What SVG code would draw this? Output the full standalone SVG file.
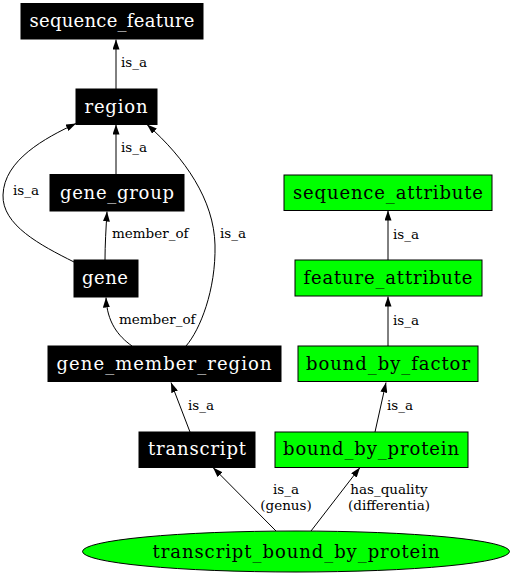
<svg xmlns="http://www.w3.org/2000/svg" width="513" height="576" viewBox="0 0 513 576">
<defs>
<style>
.nt{font-family:"DejaVu Serif","Liberation Serif",serif;font-size:18px;text-anchor:middle}
.w{fill:#ffffff}
.k{fill:#000000}
.bk{fill:#000000;stroke:#000000;stroke-width:1}
.gr{fill:#00ff00;stroke:#000000;stroke-width:1}
.el{font-family:"DejaVu Serif","Liberation Serif",serif;font-size:13.5px;fill:#000000}
.e{fill:none;stroke:#000000;stroke-width:1;marker-end:url(#ah)}
</style>
<marker id="ah" viewBox="0 0 10 7" refX="10" refY="3.5" markerWidth="10" markerHeight="7" markerUnits="userSpaceOnUse" orient="auto">
<path d="M0,0 L10,3.5 L0,7 z" fill="#000000"/>
</marker>
</defs>
<rect width="513" height="576" fill="#ffffff"/>
<g id="edges">
<path class="e" d="M116,89 L116,39.5"/>
<path class="e" d="M116,174 L116,124.5"/>
<path class="e" d="M105,260 C105,245 106,228 107,211.5"/>
<path class="e" d="M74,262 C40,245 2,225 3,195 C4,160 45,138 76,123.5"/>
<path class="e" d="M186,346 C200,330 216,290 215,245 C214,200 185,158 147,124.5"/>
<path class="e" d="M132,346 C118,336 107,322 106,297.5"/>
<path class="e" d="M190,432 L171,382.5"/>
<path class="e" d="M375,432 L386,382.5"/>
<path class="e" d="M388,346 L388,296.5"/>
<path class="e" d="M388,260 L388,210.5"/>
<path class="e" d="M276,531 L213,467.5"/>
<path class="e" d="M311,531 L360,467.5"/>
<text class="el" x="121" y="67">is_a</text>
<text class="el" x="121" y="152">is_a</text>
<text class="el" x="13" y="195">is_a</text>
<text class="el" x="112" y="238">member_of</text>
<text class="el" x="220" y="238">is_a</text>
<text class="el" x="119" y="324">member_of</text>
<text class="el" x="188" y="410">is_a</text>
<text class="el" x="387" y="410">is_a</text>
<text class="el" x="393" y="325">is_a</text>
<text class="el" x="393" y="239">is_a</text>
<text class="el" x="286" y="494" text-anchor="middle">is_a</text>
<text class="el" x="286" y="509.5" text-anchor="middle">(genus)</text>
<text class="el" x="389" y="494" text-anchor="middle">has_quality</text>
<text class="el" x="389" y="509.5" text-anchor="middle">(differentia)</text>
</g>
<g id="sequence_feature"><rect class="bk" x="21" y="3.5" width="182" height="35.5"/><text class="nt w" x="112" y="26.5" textLength="165" lengthAdjust="spacing">sequence_feature</text></g>
<g id="region"><rect class="bk" x="76" y="89" width="81" height="35.5"/><text class="nt w" x="116" y="112.5" textLength="63" lengthAdjust="spacing">region</text></g>
<g id="gene_group"><rect class="bk" x="50" y="174.5" width="134" height="36.5"/><text class="nt w" x="117" y="198.5" textLength="114" lengthAdjust="spacing">gene_group</text></g>
<g id="gene"><rect class="bk" x="74" y="260" width="64" height="37"/><text class="nt w" x="105" y="283.5" textLength="46" lengthAdjust="spacing">gene</text></g>
<g id="gene_member_region"><rect class="bk" x="48" y="346" width="233" height="35.5"/><text class="nt w" x="164" y="369.5" textLength="215" lengthAdjust="spacing">gene_member_region</text></g>
<g id="transcript"><rect class="bk" x="139" y="432" width="116" height="35.5"/><text class="nt w" x="197" y="454.5" textLength="98" lengthAdjust="spacing">transcript</text></g>
<g id="bound_by_protein"><rect class="gr" x="275" y="432" width="193" height="35.5"/><text class="nt k" x="371" y="454.5" textLength="176" lengthAdjust="spacing">bound_by_protein</text></g>
<g id="bound_by_factor"><rect class="gr" x="298" y="346" width="180" height="35.5"/><text class="nt k" x="388" y="369.5" textLength="164" lengthAdjust="spacing">bound_by_factor</text></g>
<g id="feature_attribute"><rect class="gr" x="295" y="260" width="187" height="36"/><text class="nt k" x="388" y="283.5" textLength="169" lengthAdjust="spacing">feature_attribute</text></g>
<g id="sequence_attribute"><rect class="gr" x="284" y="175" width="208" height="35.5"/><text class="nt k" x="388" y="198.5" textLength="190" lengthAdjust="spacing">sequence_attribute</text></g>
<g id="transcript_bound_by_protein"><ellipse cx="296" cy="551.5" rx="213.5" ry="20.5" fill="#00ff00" stroke="#000000" stroke-width="1"/><text class="nt k" x="296" y="557.5" textLength="287" lengthAdjust="spacing">transcript_bound_by_protein</text></g>
</svg>
